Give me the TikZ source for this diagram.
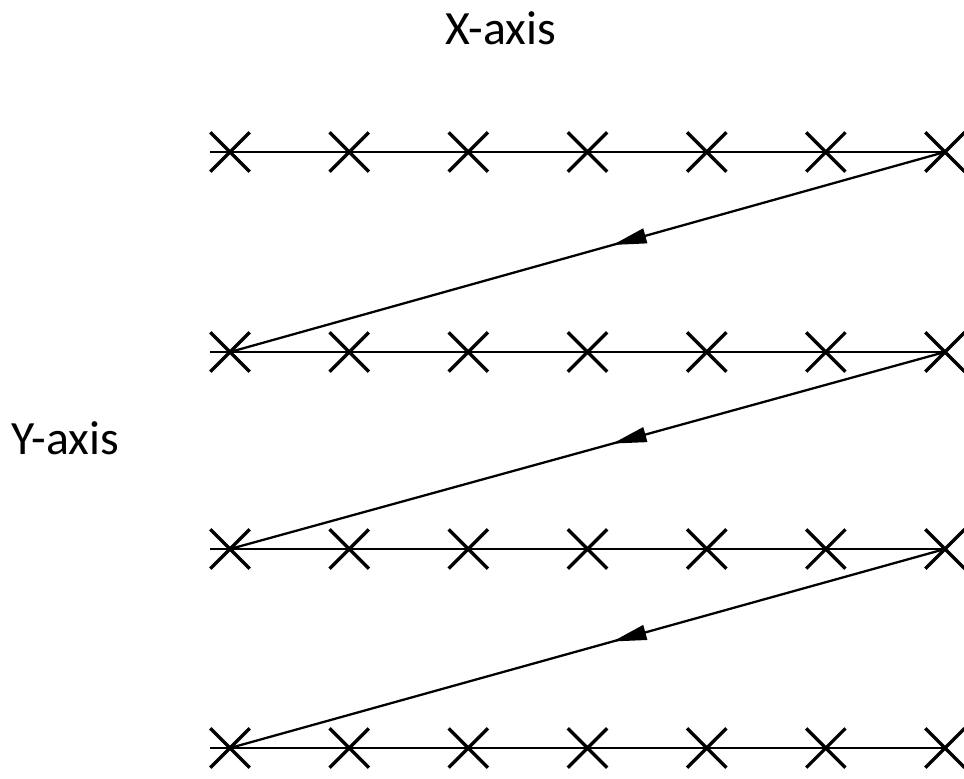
\documentclass[tikz,border=0pt]{standalone}
\usepackage{fontspec}
\setmainfont{Carlito}
\usetikzlibrary{arrows.meta,shapes.misc,decorations.markings}
\tikzset{
  sample/.style={cross out, draw, line width=1.9pt, minimum size=0.72cm, inner sep=0pt},
  scanline/.style={line width=1.6pt},
  retrace/.style={line width=1.3pt, postaction={decorate},
    decoration={markings, mark=at position 0.465 with {\arrow{Triangle[length=0.68cm,width=0.3cm]}}}},
  axislabel/.style={font=\fontsize{27.2}{32}\selectfont}
}

\begin{document}
\begin{tikzpicture}[x=0.02cm, y=-0.02cm]
  \useasboundingbox (0,0) rectangle (964,778);
  % Axis labels
  \node[axislabel] (xlabel) at (501,28) {X-axis};
  \node[axislabel] (ylabel) at (65,438) {Y-axis};
  % Sample points
  \foreach \r/\y in {1/152, 2/352, 3/549, 4/748} {
    \foreach \c in {1,...,7} {
      \node[sample] (s\r\c) at ({230+(\c-1)*119.17},\y) {};
    }
    % Scan line
    \draw[scanline] (s\r1.west) -- (s\r7.center);
  }
  % Flyback
  \draw[retrace] (s17.center) -- (s21.center);
  \draw[retrace] (s27.center) -- (s31.center);
  \draw[retrace] (s37.center) -- (s41.center);
\end{tikzpicture}
\end{document}
